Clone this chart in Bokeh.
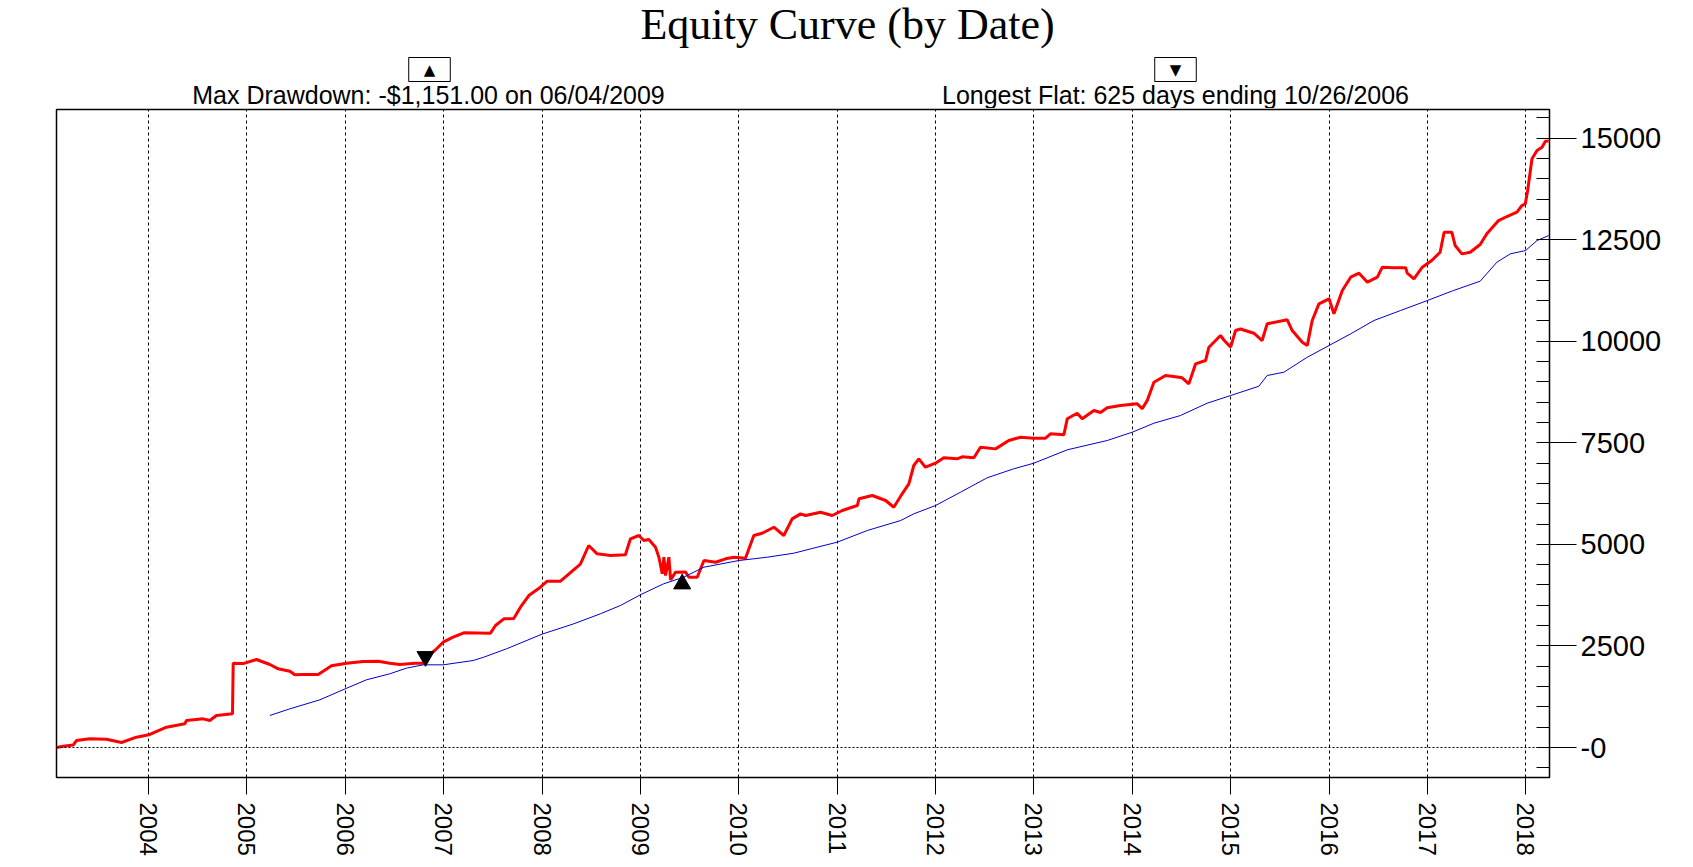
import math
from bokeh.plotting import figure
from bokeh.layouts import column
from bokeh.models import FixedTicker, Span, Label, Range1d
from bokeh.embed import file_html
from bokeh.resources import INLINE

title_text = "Equity Curve (by Date)"
drawdown_text = "Max Drawdown: -$1,151.00 on 06/04/2009"
flat_text = "Longest Flat: 625 days ending 10/26/2006"

year_ticks = list(range(2004, 2019))
value_ticks = [0, 2500, 5000, 7500, 10000, 12500, 15000]
value_tick_labels = ["-0", "2500", "5000", "7500", "10000", "12500", "15000"]

# Equity curve (decimal year, $)
equity_t = [2003.065, 2003.133, 2003.234, 2003.268, 2003.403, 2003.573, 2003.726, 2003.878,
            2004.003, 2004.183, 2004.369, 2004.386, 2004.556, 2004.623, 2004.691, 2004.854,
            2004.861, 2004.963, 2005.098, 2005.234, 2005.318, 2005.437, 2005.487, 2005.572,
            2005.725, 2005.776, 2005.860, 2006.013, 2006.182, 2006.335, 2006.453, 2006.555,
            2006.707, 2006.792, 2006.843, 2006.910, 2006.995, 2007.097, 2007.205, 2007.476,
            2007.527, 2007.612, 2007.713, 2007.781, 2007.866, 2007.984, 2008.052, 2008.188,
            2008.390, 2008.475, 2008.560, 2008.696, 2008.848, 2008.899, 2008.984, 2009.035,
            2009.086, 2009.154, 2009.188, 2009.222, 2009.239, 2009.256, 2009.290, 2009.307,
            2009.358, 2009.459, 2009.493, 2009.578, 2009.646, 2009.764, 2009.866, 2009.950,
            2010.068, 2010.153, 2010.238, 2010.357, 2010.458, 2010.543, 2010.628, 2010.679,
            2010.831, 2010.950, 2011.052, 2011.205, 2011.222, 2011.357, 2011.493, 2011.576,
            2011.661, 2011.729, 2011.779, 2011.830, 2011.898, 2012.000, 2012.084, 2012.220,
            2012.271, 2012.390, 2012.457, 2012.610, 2012.745, 2012.864, 2013.000, 2013.118,
            2013.169, 2013.305, 2013.339, 2013.440, 2013.491, 2013.610, 2013.677, 2013.745,
            2013.880, 2014.050, 2014.101, 2014.152, 2014.220, 2014.338, 2014.457, 2014.507,
            2014.575, 2014.643, 2014.745, 2014.779, 2014.897, 2014.931, 2015.000, 2015.050,
            2015.100, 2015.236, 2015.320, 2015.371, 2015.575, 2015.626, 2015.728, 2015.779,
            2015.829, 2015.897, 2016.000, 2016.050, 2016.135, 2016.220, 2016.305, 2016.390,
            2016.491, 2016.542, 2016.660, 2016.779, 2016.795, 2016.863, 2016.948, 2017.044,
            2017.129, 2017.170, 2017.248, 2017.282, 2017.350, 2017.435, 2017.536, 2017.604,
            2017.723, 2017.808, 2017.910, 2017.961, 2017.995, 2018.019, 2018.063, 2018.114,
            2018.165, 2018.199, 2018.233]
equity_v = [0, 30, 60, 172, 213, 205, 123, 254,
            312, 500, 583, 665, 706, 665, 788, 829,
            2075, 2066, 2166, 2043, 1937, 1878, 1789, 1797,
            1797, 1878, 2010, 2075, 2117, 2125, 2075, 2043,
            2075, 2075, 2264, 2387, 2592, 2715, 2823, 2815,
            3003, 3167, 3175, 3453, 3741, 3946, 4093, 4093,
            4513, 4972, 4767, 4726, 4743, 5137, 5218, 5095,
            5120, 4930, 4684, 4275, 4684, 4233, 4684, 4127,
            4315, 4320, 4192, 4192, 4602, 4560, 4644, 4685,
            4660, 5218, 5274, 5422, 5218, 5628, 5751, 5710,
            5792, 5710, 5833, 5956, 6121, 6202, 6079, 5914,
            6244, 6490, 6941, 7105, 6899, 6998, 7130, 7105,
            7155, 7130, 7391, 7350, 7556, 7637, 7612, 7612,
            7720, 7700, 8090, 8228, 8090, 8295, 8245, 8360,
            8417, 8460, 8340, 8540, 8991, 9156, 9120, 9100,
            8950, 9441, 9525, 9853, 10141, 10030, 9853, 10263,
            10300, 10197, 10017, 10428, 10526, 10263, 9976, 9894,
            10510, 10920, 11043, 10674, 11248, 11576, 11674, 11453,
            11576, 11822, 11810, 11810, 11674, 11535, 11822, 11986,
            12191, 12683, 12683, 12355, 12150, 12191, 12380, 12643,
            12970, 13069, 13175, 13340, 13380, 13709, 14489, 14694,
            14776, 14924, 14930]

# Moving average of equity (decimal year, $)
avg_t = [2005.234, 2005.437, 2005.742, 2006.000, 2006.216, 2006.453, 2006.622, 2006.792,
         2006.995, 2007.300, 2007.408, 2007.639, 2008.000, 2008.322, 2008.593, 2008.797,
         2009.006, 2009.236, 2009.440, 2009.646, 2010.000, 2010.289, 2010.560, 2010.797,
         2011.000, 2011.307, 2011.646, 2011.779, 2012.000, 2012.254, 2012.525, 2012.796,
         2013.000, 2013.339, 2013.745, 2014.000, 2014.220, 2014.490, 2014.761, 2015.000,
         2015.287, 2015.371, 2015.541, 2015.779, 2016.000, 2016.220, 2016.457, 2016.728,
         2017.000, 2017.265, 2017.536, 2017.706, 2017.842, 2017.998, 2018.114, 2018.233]
avg_v = [788, 952, 1174, 1445, 1666, 1814, 1953, 2035,
         2035, 2141, 2223, 2429, 2790, 3044, 3290, 3495,
         3766, 4029, 4192, 4438, 4602, 4684, 4783, 4930,
         5053, 5341, 5587, 5751, 5956, 6284, 6638, 6860,
         6998, 7327, 7556, 7761, 7982, 8171, 8474, 8663,
         8892, 9156, 9237, 9606, 9894, 10182, 10510, 10756,
         11002, 11248, 11477, 11944, 12150, 12232, 12478, 12601]

flat_end_t = [2006.816]
flat_end_v = [2240]
drawdown_t = [2009.425]
drawdown_v = [4025]

W = 1690
HEAD_H = 108
LEFT = 56
FRAME_W = 1493
RIGHT = W - LEFT - FRAME_W

# ---------- header (title + drawdown / flat notes) ----------
head = figure(width=W, height=HEAD_H,
              x_range=Range1d(LEFT, LEFT + FRAME_W), y_range=Range1d(HEAD_H, 0),
              x_axis_location=None, y_axis_location=None, title=None,
              output_backend="svg", toolbar_location=None,
              min_border_left=LEFT, min_border_right=RIGHT, min_border_top=0, min_border_bottom=0)
head.outline_line_color = None
head.xgrid.visible = False
head.ygrid.visible = False
head.background_fill_color = "white"
head.border_fill_color = "white"

head.add_layout(Label(x=847, y=24, text=title_text, text_align="center",
                      text_baseline="middle", text_font="Liberation Serif",
                      text_font_size="44px", text_color="black"))
head.add_layout(Label(x=428, y=94, text=drawdown_text, text_align="center",
                      text_baseline="middle", text_font="Liberation Sans",
                      text_font_size="25px", text_color="black"))
head.add_layout(Label(x=1175, y=94, text=flat_text, text_align="center",
                      text_baseline="middle", text_font="Liberation Sans",
                      text_font_size="25px", text_color="black"))
box_pad = dict(left=15, right=15, top=3, bottom=3)
head.add_layout(Label(x=429, y=69, text="\u25B2", text_align="center",
                      text_baseline="middle", text_font="DejaVu Sans", text_font_size="15px",
                      text_color="black", border_line_color="black", border_line_width=1,
                      background_fill_color="white", padding=box_pad))
head.add_layout(Label(x=1175, y=69, text="\u25BC", text_align="center",
                      text_baseline="middle", text_font="DejaVu Sans", text_font_size="15px",
                      text_color="black", border_line_color="black", border_line_width=1,
                      background_fill_color="white", padding=box_pad))

# ---------- main chart ----------
p = figure(width=W, height=867 - HEAD_H, title=None,
           x_range=Range1d(2003.065, 2018.241), y_range=Range1d(-738, 15703),
           y_axis_location="right", output_backend="svg", toolbar_location=None,
           min_border_left=LEFT, min_border_right=RIGHT,
           min_border_top=1, min_border_bottom=867 - HEAD_H - 1 - 668)
p.background_fill_color = "white"
p.border_fill_color = "white"
p.outline_line_color = "black"
p.outline_line_width = 1.5

xa = p.xaxis[0]
xa.ticker = FixedTicker(ticks=year_ticks, minor_ticks=[])
xa.major_label_overrides = {y: str(y) for y in year_ticks}
xa.major_label_orientation = -math.pi / 2
xa.major_tick_out = 17
xa.major_tick_in = 0
xa.minor_tick_out = 0
xa.minor_tick_in = 0
xa.major_label_standoff = 8
xa.major_label_text_font = "Liberation Sans"
xa.major_label_text_font_size = "24px"
xa.major_label_text_color = "black"
xa.axis_line_color = "black"
xa.major_tick_line_color = "black"

ya = p.yaxis[0]
ya.ticker = FixedTicker(ticks=value_ticks, minor_ticks=list(range(-500, 15501, 500)))
ya.major_label_overrides = {v: l for v, l in zip(value_ticks, value_tick_labels)}
ya.major_tick_out = 27
ya.major_tick_in = 0
ya.minor_tick_in = 13
ya.minor_tick_out = 0
ya.major_label_standoff = 4
ya.major_label_text_font = "Liberation Sans"
ya.major_label_text_font_size = "29px"
ya.major_label_text_color = "black"
ya.axis_line_color = "black"
ya.major_tick_line_color = "black"
ya.minor_tick_line_color = "black"

p.xgrid.ticker = FixedTicker(ticks=year_ticks)
p.xgrid.grid_line_color = "black"
p.xgrid.grid_line_dash = "3 3"
p.xgrid.grid_line_width = 1
p.ygrid.visible = False

p.add_layout(Span(location=0, dimension="width", line_color="black",
                  line_dash="2 2", line_width=1))

p.line(equity_t, equity_v, line_color="#FF0000", line_width=3)
p.line(avg_t, avg_v, line_color="#0000CC", line_width=1)
p.scatter(flat_end_t, flat_end_v, marker="inverted_triangle", size=17, color="black")
p.scatter(drawdown_t, drawdown_v, marker="triangle", size=17, color="black")

layout = column(head, p, spacing=0)
open("out.html", "w").write(file_html(layout, INLINE))
